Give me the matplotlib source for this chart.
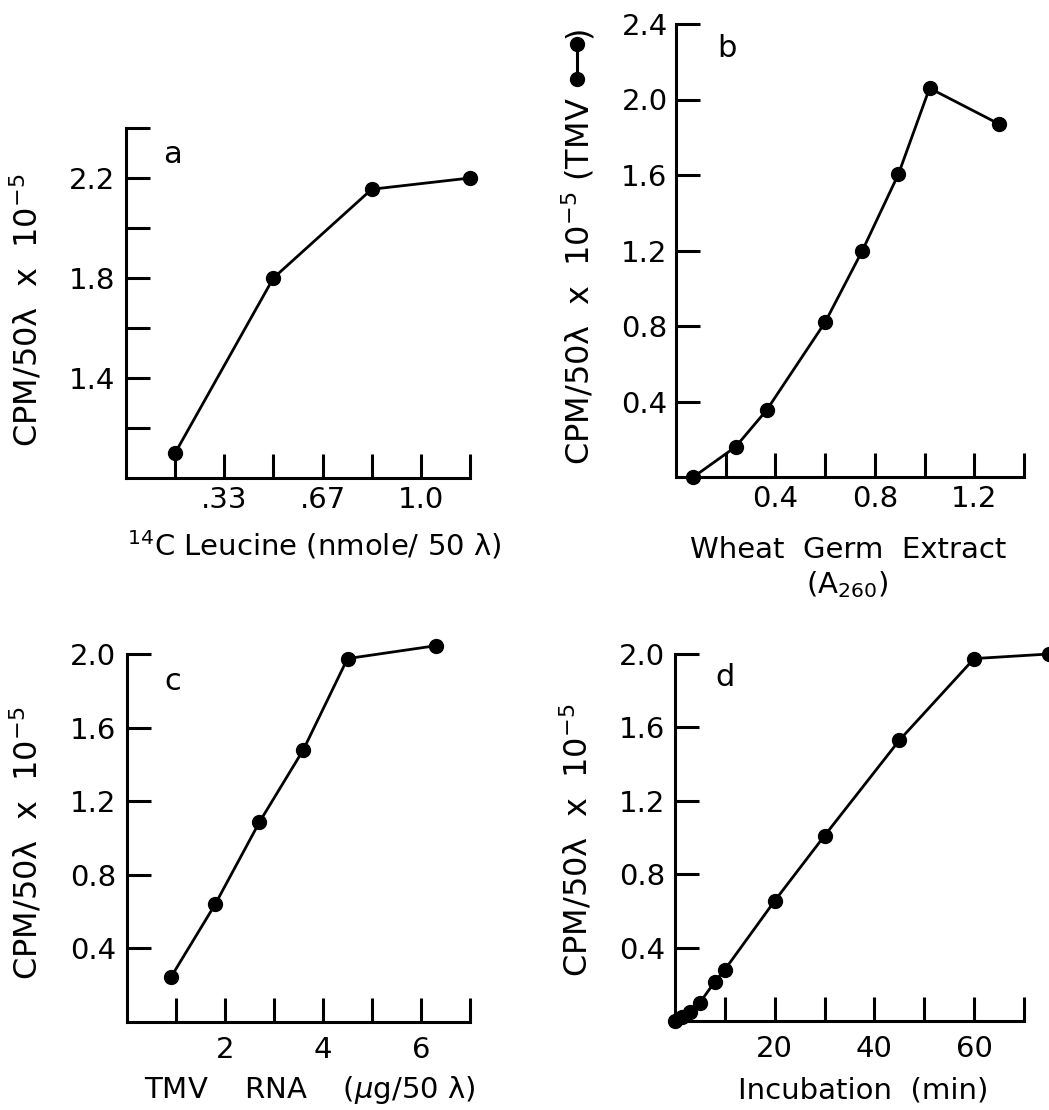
import matplotlib
matplotlib.use('Agg')
import matplotlib.pyplot as plt
from matplotlib.lines import Line2D

plt.rcParams['font.family'] = ['DejaVu Sans']
plt.rcParams['mathtext.fontset'] = 'dejavusans'

# ---------------- data ----------------
# panel a : 14C leucine
a_x = [1/6, 0.5, 5/6, 7/6]
a_y = [1.10, 1.80, 2.155, 2.20]
a_xticks = [1/6, 2/6, 3/6, 4/6, 5/6, 1.0, 7/6]
a_xticklabels = ['', '.33', '', '.67', '', '1.0', '']
a_yticks = [1.2, 1.4, 1.6, 1.8, 2.0, 2.2, 2.4]
a_yticklabels = ['', '1.4', '', '1.8', '', '2.2', '']

# panel b : wheat germ extract
b_x = [0.07, 0.24, 0.365, 0.60, 0.75, 0.895, 1.02, 1.30]
b_y = [0.0, 0.16, 0.355, 0.82, 1.20, 1.605, 2.06, 1.87]
b_xticks = [0.2, 0.4, 0.6, 0.8, 1.0, 1.2, 1.4]
b_xticklabels = ['', '0.4', '', '0.8', '', '1.2', '']
b_yticks = [0.4, 0.8, 1.2, 1.6, 2.0, 2.4]
b_yticklabels = ['0.4', '0.8', '1.2', '1.6', '2.0', '2.4']

# panel c : TMV RNA
c_x = [0.9, 1.8, 2.7, 3.6, 4.5, 6.3]
c_y = [0.245, 0.64, 1.085, 1.48, 1.975, 2.045]
c_xticks = [1, 2, 3, 4, 5, 6, 7]
c_xticklabels = ['', '2', '', '4', '', '6', '']
c_yticks = [0.4, 0.8, 1.2, 1.6, 2.0]
c_yticklabels = ['0.4', '0.8', '1.2', '1.6', '2.0']

# panel d : incubation time
d_x = [0, 1.5, 3, 5, 8, 10, 20, 30, 45, 60, 75]
d_y = [0.0, 0.02, 0.05, 0.10, 0.215, 0.28, 0.655, 1.01, 1.53, 1.975, 2.0]
d_xticks = [10, 20, 30, 40, 50, 60, 70]
d_xticklabels = ['', '20', '', '40', '', '60', '']
d_yticks = [0.4, 0.8, 1.2, 1.6, 2.0]
d_yticklabels = ['0.4', '0.8', '1.2', '1.6', '2.0']

W, H = 1049, 1110
fig = plt.figure(figsize=(W / 100, H / 100), dpi=100)

TICK_FS = 21
LAB_FS = 21
YLAB_FS = 23


def px_axes(l, t, r, b):
    return fig.add_axes([l / W, 1 - b / H, (r - l) / W, (b - t) / H])


def style(ax, xlim, ylim, xt, xtl, yt, ytl, xpad, ypad):
    ax.set_xlim(*xlim)
    ax.set_ylim(*ylim)
    ax.set_xticks(xt)
    ax.set_xticklabels(xtl)
    ax.set_yticks(yt)
    ax.set_yticklabels(ytl)
    for s in ('top', 'right'):
        ax.spines[s].set_visible(False)
    for s in ('left', 'bottom'):
        ax.spines[s].set_linewidth(2.2)
        ax.spines[s].set_capstyle('projecting')
    ax.tick_params(direction='in', length=17, width=2.2, labelsize=TICK_FS,
                   colors='black')
    ax.tick_params(axis='x', pad=xpad)
    ax.tick_params(axis='y', pad=ypad)
    ax.patch.set_visible(False)


def curve(ax, x, y):
    ax.plot(x, y, color='black', lw=2.0, marker='o', ms=10,
            clip_on=False, zorder=5)


axa = px_axes(126, 128, 470, 478)
style(axa, (0, 7/6), (1.0, 2.4), a_xticks, a_xticklabels,
      a_yticks, a_yticklabels, 6, 8)
curve(axa, a_x, a_y)
axa.text(0.134, 0.923, 'a', transform=axa.transAxes, fontsize=22,
         ha='center', va='center')

axb = px_axes(676, 24, 1024, 477)
style(axb, (0, 1.4), (0, 2.4), b_xticks, b_xticklabels,
      b_yticks, b_yticklabels, 6, 6)
curve(axb, b_x, b_y)
axb.text(0.147, 0.947, 'b', transform=axb.transAxes, fontsize=22,
         ha='center', va='center')

axc = px_axes(127, 654, 470, 1022)
style(axc, (0, 7), (0, 2.0), c_xticks, c_xticklabels,
      c_yticks, c_yticklabels, 10, 8)
curve(axc, c_x, c_y)
axc.text(0.134, 0.924, 'c', transform=axc.transAxes, fontsize=22,
         ha='center', va='center')

axd = px_axes(675, 654, 1024, 1021)
style(axd, (0, 70), (0, 2.0), d_xticks, d_xticklabels,
      d_yticks, d_yticklabels, 10, 7)
curve(axd, d_x, d_y)
axd.text(0.143, 0.937, 'd', transform=axd.transAxes, fontsize=22,
         ha='center', va='center')

# ---------------- axis titles ----------------
ylab = 'CPM/50λ  x  10$^{-5}$'
fig.text(27 / W, 1 - 310 / H, ylab, rotation=90, ha='center', va='center',
         fontsize=YLAB_FS)
fig.text(578 / W, 1 - 97 / H, ylab + ' (TMV', rotation=90,
         ha='center', va='top', fontsize=YLAB_FS)
# legend key inside the label: filled dot - line - filled dot
fig.add_artist(Line2D([577 / W, 577 / W], [1 - 79 / H, 1 - 44 / H],
                      color='black', lw=2.2, marker='o', ms=10,
                      transform=fig.transFigure))
fig.text(578 / W, 1 - 32 / H, ')', rotation=90, ha='center', va='center',
         fontsize=YLAB_FS)
fig.text(27 / W, 1 - 843 / H, ylab, rotation=90, ha='center', va='center',
         fontsize=YLAB_FS)
fig.text(577 / W, 1 - 840 / H, ylab, rotation=90, ha='center', va='center',
         fontsize=YLAB_FS)

fig.text(314 / W, 1 - 545 / H, '$^{14}$C Leucine (nmole/ 50 λ)',
         ha='center', va='center', fontsize=LAB_FS)
fig.text(848 / W, 1 - 550 / H, 'Wheat  Germ  Extract',
         ha='center', va='center', fontsize=LAB_FS)
fig.text(847 / W, 1 - 585 / H, '(A$_{260}$)',
         ha='center', va='center', fontsize=LAB_FS)
fig.text(310 / W, 1 - 1090 / H, 'TMV    RNA    ($\\mu$g/50 λ)',
         ha='center', va='center', fontsize=LAB_FS)
fig.text(863 / W, 1 - 1091 / H, 'Incubation  (min)',
         ha='center', va='center', fontsize=LAB_FS)

fig.savefig('out.png', dpi=100, facecolor='white')
